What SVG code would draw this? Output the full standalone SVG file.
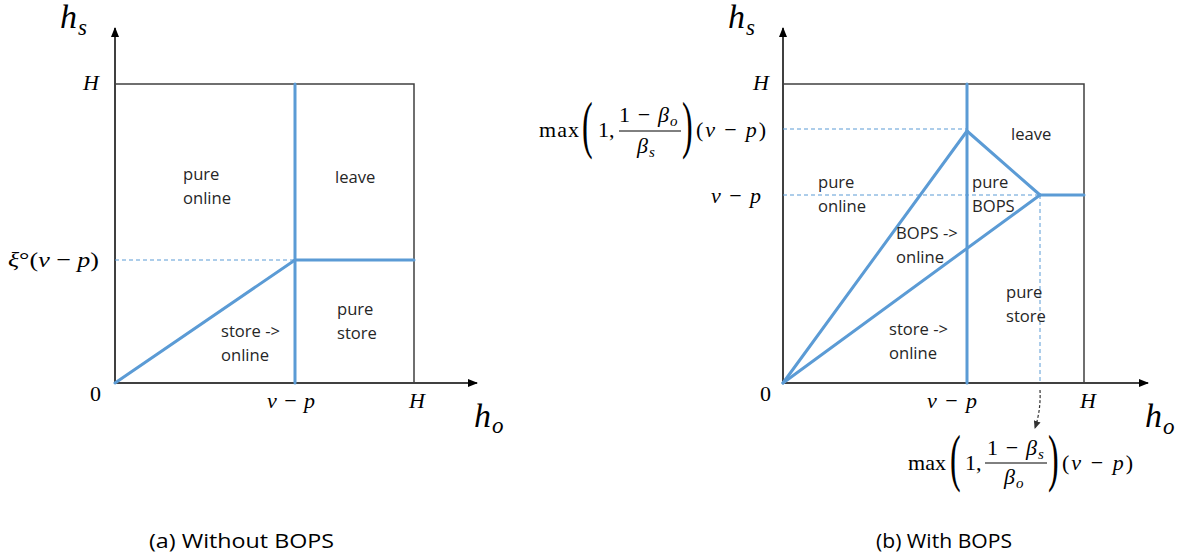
<svg xmlns="http://www.w3.org/2000/svg" width="1181" height="556" viewBox="0 0 1181 556">
<defs>
<marker id="ah" markerWidth="10" markerHeight="8" refX="9" refY="4" orient="auto" markerUnits="userSpaceOnUse">
<path d="M0,0 L10,4 L0,8 Z" fill="#000"/>
</marker>
<marker id="ahs" markerWidth="8" markerHeight="7" refX="7" refY="3.5" orient="auto" markerUnits="userSpaceOnUse">
<path d="M0,0 L8,3.5 L0,7 Z" fill="#333"/>
</marker>
<style>
.ax{stroke:#000;stroke-width:1.5;fill:none}
.box{stroke:#404040;stroke-width:1.5;fill:none}
.bl{stroke:#5B9BD5;stroke-width:3;fill:none;stroke-linecap:round;stroke-linejoin:round}
.dsh{stroke:#5B9BD5;stroke-width:1;fill:none;stroke-dasharray:4 3}
.lab{font-family:"Open Sans","Noto Sans",sans-serif;font-size:16.6px;fill:#262626}
.m{font-family:"Liberation Serif","Times New Roman",serif;font-size:22px;fill:#000}
.mi{font-style:italic}
.big{font-family:"Liberation Serif","Times New Roman",serif;font-style:italic;font-size:34px;fill:#000}
.sub{font-family:"Liberation Serif","Times New Roman",serif;font-style:italic;font-size:23px;fill:#000}
.ss{font-family:"Liberation Serif","Times New Roman",serif;font-style:italic;font-size:15px;fill:#000}
.par{font-family:"Liberation Serif","Times New Roman",serif;font-size:64px;fill:#000}
.cap{font-family:"Open Sans","Noto Sans",sans-serif;font-size:20px;fill:#000}
</style>
</defs>

<!-- Left chart (a) -->
<g id="chart-a">
  <g id="a-axes">
    <line class="ax" x1="115" y1="383" x2="115" y2="28" marker-end="url(#ah)"/>
    <line class="ax" x1="115" y1="383" x2="477" y2="383" marker-end="url(#ah)"/>
    <polyline class="box" points="115,84 414,84 414,383"/>
  </g>
  <g id="a-connectors">
    <line class="dsh" x1="115" y1="260" x2="295" y2="260"/>
    <line class="bl" x1="295" y1="84" x2="295" y2="383"/>
    <line class="bl" x1="295" y1="260" x2="414" y2="260"/>
    <line class="bl" x1="115" y1="383" x2="295" y2="260"/>
  </g>
  <g id="a-axis-labels">
    <text class="big" x="60" y="28">h</text><text class="sub" x="78" y="35">s</text>
    <text class="m mi" x="83" y="90">H</text>
    <text class="m" x="8" y="267" textLength="91" lengthAdjust="spacingAndGlyphs"><tspan class="mi">ξ</tspan>°(<tspan class="mi">v</tspan> − <tspan class="mi">p</tspan>)</text>
    <text class="m" x="90" y="401">0</text>
    <text class="m" x="267" y="408" textLength="48"><tspan class="mi">v</tspan> − <tspan class="mi">p</tspan></text>
    <text class="m mi" x="409" y="408">H</text>
    <text class="big" x="474" y="427">h</text><text class="sub" x="492" y="433">o</text>
  </g>
  <g id="a-pure-online"><text class="lab" x="183" y="180">pure</text><text class="lab" x="183" y="204">online</text></g>
  <g id="a-leave"><text class="lab" x="335" y="183">leave</text></g>
  <g id="a-store-online"><text class="lab" x="221" y="337">store -&gt;</text><text class="lab" x="221" y="361">online</text></g>
  <g id="a-pure-store"><text class="lab" x="337" y="315">pure</text><text class="lab" x="337" y="339">store</text></g>
</g>

<!-- Right chart (b) -->
<g id="chart-b">
  <g id="b-axes">
    <line class="ax" x1="783" y1="383" x2="783" y2="28" marker-end="url(#ah)"/>
    <line class="ax" x1="783" y1="383" x2="1148" y2="383" marker-end="url(#ah)"/>
    <polyline class="box" points="783,84 1084,84 1084,383"/>
  </g>
  <g id="b-connectors">
    <line class="dsh" x1="783" y1="129" x2="967" y2="129"/>
    <line class="dsh" x1="783" y1="195" x2="1040" y2="195"/>
    <line class="dsh" x1="1040" y1="195" x2="1040" y2="383"/>
    <line class="bl" x1="967" y1="84" x2="967" y2="383"/>
    <line class="bl" x1="783" y1="383" x2="967" y2="131"/>
    <line class="bl" x1="967" y1="131" x2="1040" y2="195"/>
    <line class="bl" x1="783" y1="383" x2="1040" y2="195"/>
    <line class="bl" x1="1040" y1="195" x2="1084" y2="195"/>
    <path d="M1040,390 Q1041,410 1035,428" stroke="#333" stroke-width="1.2" fill="none" stroke-dasharray="3 2" marker-end="url(#ahs)"/>
  </g>
  <g id="b-axis-labels">
    <text class="big" x="728" y="28">h</text><text class="sub" x="746" y="35">s</text>
    <text class="m mi" x="753" y="90">H</text>
    <text class="m" x="711" y="203" textLength="50"><tspan class="mi">v</tspan> − <tspan class="mi">p</tspan></text>
    <text class="m" x="760" y="401">0</text>
    <text class="m" x="927" y="408" textLength="50"><tspan class="mi">v</tspan> − <tspan class="mi">p</tspan></text>
    <text class="m mi" x="1080" y="408">H</text>
    <text class="big" x="1145" y="427">h</text><text class="sub" x="1163" y="434">o</text>
  </g>
  <g id="b-max-top">
    <text class="m" x="539" y="137" textLength="40">max</text>
    <text class="par" transform="translate(582,146) scale(0.5,1)">(</text>
    <text class="m" x="598" y="137">1,</text>
    <text class="m" x="619" y="122" textLength="50"><tspan>1 − </tspan><tspan class="mi">β</tspan></text><text class="ss" x="670" y="126">o</text>
    <line x1="619" y1="131" x2="681" y2="131" stroke="#000" stroke-width="1"/>
    <text class="m mi" x="637" y="153">β</text><text class="ss" x="649" y="157">s</text>
    <text class="par" transform="translate(682,146) scale(0.5,1)">)</text>
    <text class="m" x="696" y="137" textLength="70"><tspan>(</tspan><tspan class="mi">v</tspan> − <tspan class="mi">p</tspan>)</text>
  </g>
  <g id="b-max-bottom">
    <text class="m" x="908" y="470" textLength="38">max</text>
    <text class="par" transform="translate(950,479) scale(0.5,1)">(</text>
    <text class="m" x="965" y="470">1,</text>
    <text class="m" x="987" y="455" textLength="50"><tspan>1 − </tspan><tspan class="mi">β</tspan></text><text class="ss" x="1038" y="459">s</text>
    <line x1="985" y1="463" x2="1047" y2="463" stroke="#000" stroke-width="1"/>
    <text class="m mi" x="1004" y="484">β</text><text class="ss" x="1016" y="488">o</text>
    <text class="par" transform="translate(1048,479) scale(0.5,1)">)</text>
    <text class="m" x="1062" y="470" textLength="71"><tspan>(</tspan><tspan class="mi">v</tspan> − <tspan class="mi">p</tspan>)</text>
  </g>
  <g id="b-pure-online"><text class="lab" x="818" y="188">pure</text><text class="lab" x="818" y="212">online</text></g>
  <g id="b-pure-bops"><text class="lab" x="972" y="188">pure</text><text class="lab" x="972" y="212">BOPS</text></g>
  <g id="b-leave"><text class="lab" x="1011" y="140">leave</text></g>
  <g id="b-bops-online"><text class="lab" x="896" y="239">BOPS -&gt;</text><text class="lab" x="896" y="263">online</text></g>
  <g id="b-pure-store"><text class="lab" x="1006" y="298">pure</text><text class="lab" x="1006" y="322">store</text></g>
  <g id="b-store-online"><text class="lab" x="889" y="335">store -&gt;</text><text class="lab" x="889" y="359">online</text></g>
</g>

<g id="captions">
  <text class="cap" x="149" y="548" textLength="185" lengthAdjust="spacingAndGlyphs">(a) Without BOPS</text>
  <text class="cap" x="876" y="548" textLength="136" lengthAdjust="spacingAndGlyphs">(b) With BOPS</text>
</g>
</svg>
